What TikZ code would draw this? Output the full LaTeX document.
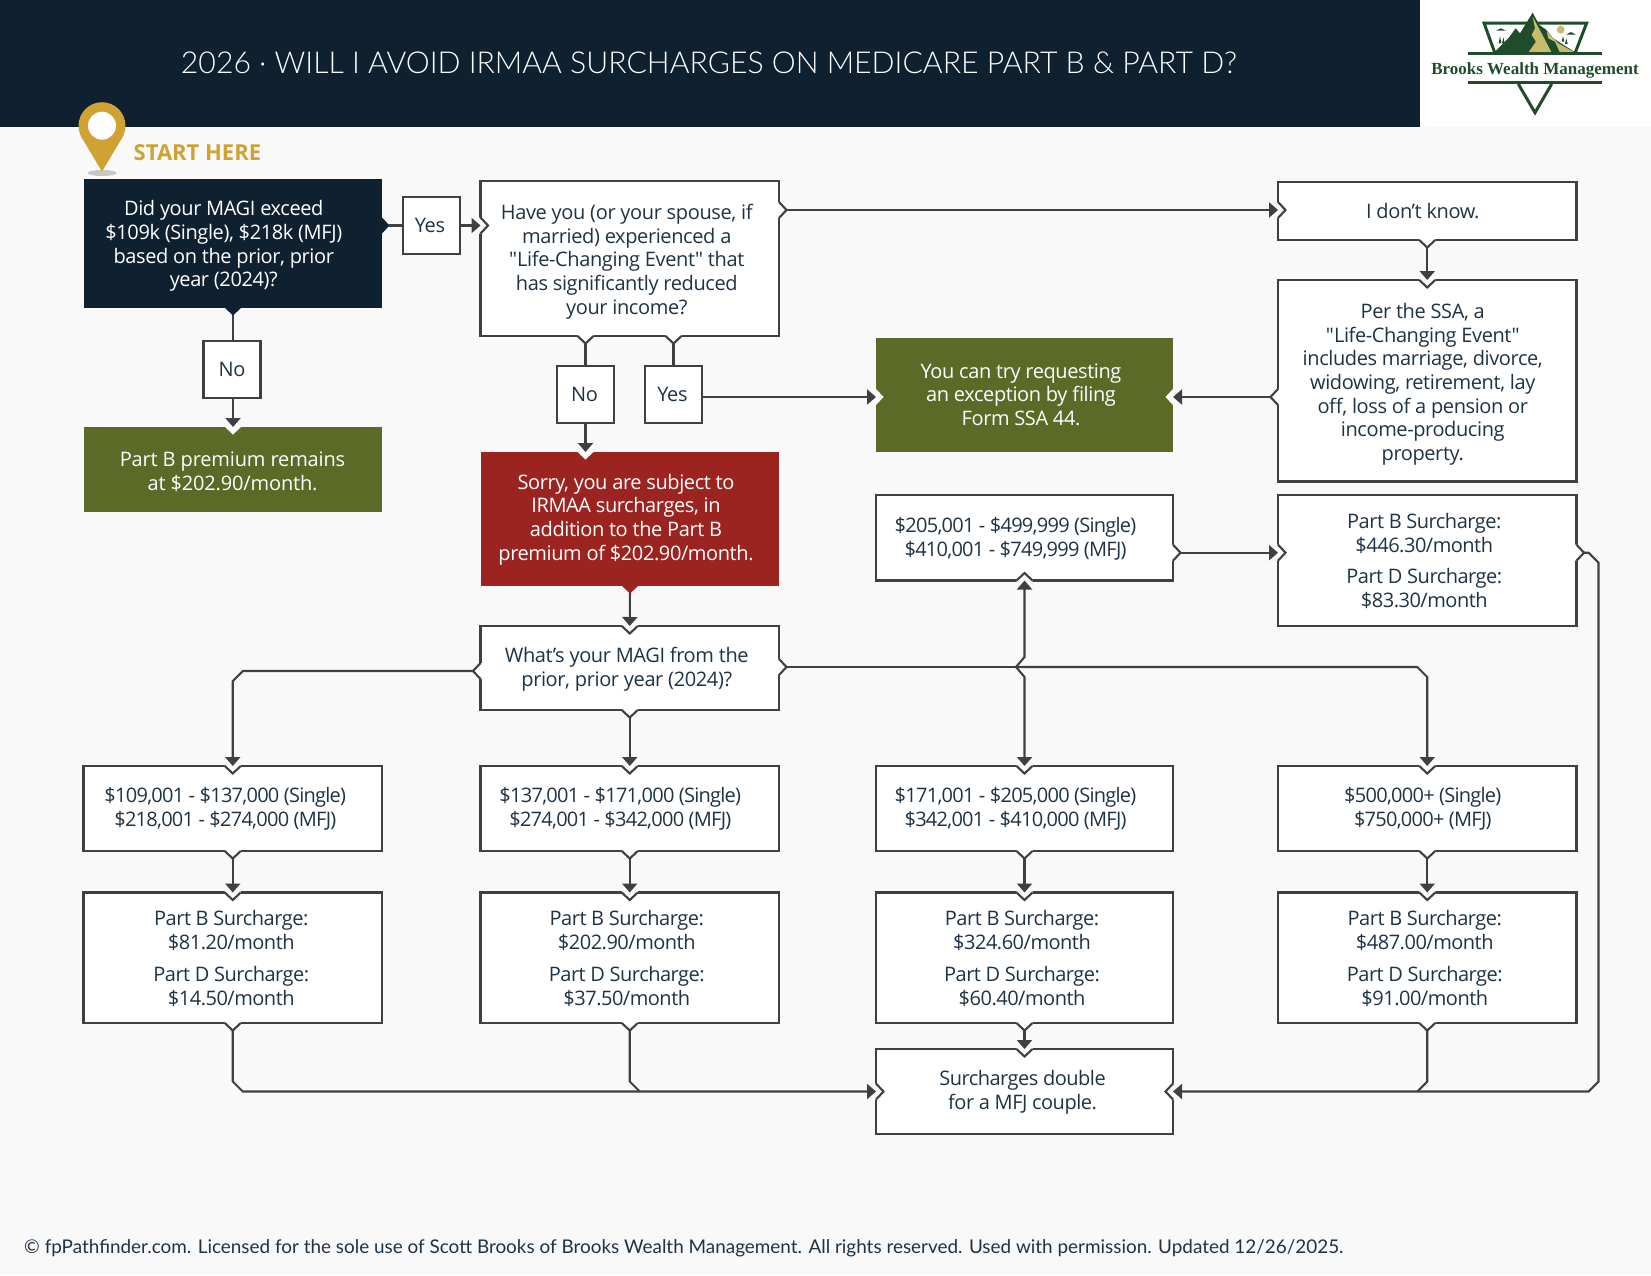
\documentclass[tikz,border=0pt]{standalone}
\usepackage{fontspec}
\usetikzlibrary{arrows.meta}
\setmainfont{Open Sans}
\newfontfamily\rawfont{Open Sans}
\newfontfamily\titlefont{Lato Light}
\newfontfamily\footfont{Lato}
\newfontfamily\logofont{Liberation Serif}
\definecolor{navy}{HTML}{0F2030}
\definecolor{bgc}{HTML}{F9F9F9}
\definecolor{olive}{HTML}{5B6B27}
\definecolor{brick}{HTML}{9C2420}
\definecolor{gold}{HTML}{CFA233}
\definecolor{edgec}{HTML}{404040}
\definecolor{txt}{HTML}{1F3347}
\definecolor{lgreen}{HTML}{1F4D2B}
\definecolor{lgold}{HTML}{C6BC6C}
\newcommand\trk[2]{\fontsize{20}{#2}\selectfont\addfontfeature{LetterSpace=#1}}
\newcommand\qt{{\rawfont"}}
\tikzset{
  box/.style={draw=edgec,line width=2.1pt,fill=white,text=txt,align=center,inner sep=0pt,outer sep=0pt,font=\trk{-2}{23.7}},
  qbox/.style={box,font=\trk{-1.9}{23.7}},
  rng/.style={box,font=\trk{-3.7}{23.7}},
  sur/.style={box,font=\trk{-2.5}{24}},
  solid box/.style={box,draw=none,text=white},
  conn/.style={draw=edgec,line width=2.1pt,line join=miter},
  arr/.style={conn,-{Triangle[length=9pt,width=15pt]}},
  tabstart/.style={shorten <=7pt},
}
% box: name, x1,y1,x2,y2, style, text offset, text
\newcommand\bx[8]{%
  \pgfmathsetmacro\bcx{(#2+#4)/2}\pgfmathsetmacro\bcy{(#3+#5)/2}%
  \pgfmathsetmacro\bw{#4-#2}\pgfmathsetmacro\bh{#5-#3}%
  \node[#6,minimum width=\bw pt,minimum height=\bh pt] (#1) at (\bcx,\bcy) {};
  \node[#6,draw=none,fill=none] (#1txt) at ([shift={(#7)}]\bcx,\bcy) {#8};}
% tab/notch: x,y,dirx,diry,fill,stroke
\newcommand\tabm[6]{%
  \fill[#5] ({#1+8*#4-1.6*#3},{#2+8*#3-1.6*#4}) -- ({#1+8*#4},{#2+8*#3}) -- ({#1+7.5*#3},{#2+7.5*#4}) -- ({#1-8*#4},{#2-8*#3}) -- ({#1-8*#4-1.6*#3},{#2-8*#3-1.6*#4}) -- cycle;
  \draw[line width=2.1pt,draw=#6] ({#1+8*#4},{#2+8*#3}) -- ({#1+7.5*#3},{#2+7.5*#4}) -- ({#1-8*#4},{#2-8*#3});}
\begin{document}
\begin{tikzpicture}[x=1pt,y=-1pt]
\useasboundingbox (0,0) rectangle (1651,1275);
\fill[bgc] (0,0) rectangle (1651,1275);
\fill[navy] (0,0) rectangle (1420,127);
\fill[white] (1420,0) rectangle (1651,127);
\node[text=white,inner sep=0pt,font=\titlefont\fontsize{30.2}{36}\selectfont] (title) at (709,63) {2026 · WILL I AVOID IRMAA SURCHARGES ON MEDICARE PART B \& PART D?};
% logo
\begin{scope}[shift={(1380,0)},x=0.3333pt,y=-0.3333pt]
 \draw[lgreen,line width=3pt] (345,160) -- (312,69) -- (620,69) -- (585,160);
 \fill[lgreen] (340,160) -- (385,115) -- (407,85) -- (420,100) -- (458,38) -- (478,75) -- (497,88) -- (520,115) -- (590,160) -- cycle;
 \fill[lgold] (458,50) -- (490,110) -- (515,158) -- (445,158) -- (468,125) -- (455,105) -- (465,85) -- cycle;
 \fill[lgold] (500,95) -- (535,130) -- (585,158) -- (540,158) -- (525,125) -- (505,115) -- cycle;
 \fill[lgold] (542,89) circle (12);
 \fill[lgreen] (348,92) -- (362,85) -- (378,92) -- cycle;
 \fill[lgreen] (558,104) -- (573,96) -- (588,104) -- cycle;
 \fill[lgreen] (356,130) -- (360,108) -- (364,130) -- cycle;
 \fill[lgreen] (366,130) -- (370,112) -- (374,130) -- cycle;
 \fill[lgreen] (545,125) -- (549,108) -- (553,125) -- cycle;
 \fill[lgreen] (555,132) -- (559,115) -- (563,132) -- cycle;
 \fill[lgreen] (264,157) rectangle (665,165);
 \fill[lgreen] (264,243) rectangle (665,252);
 \draw[lgreen,line width=3pt] (415,252) -- (465,338) -- (515,252);
 \node[text=lgreen,inner sep=0pt,font=\logofont\bfseries\fontsize{17}{20}\selectfont] (logotext) at (465,212) {Brooks Wealth Management};
\end{scope}
% pin
\fill[black!22] (102,173) ellipse [x radius=14.5,y radius=3];
\fill[gold] (102,125.7) circle (23.5);
\fill[gold] (102,171.5) -- (81.9,137.8) -- (122.1,137.8) -- cycle;
\fill[white] (102,125.7) circle (14);
\node[text=gold,anchor=base west,inner sep=0pt,font=\bfseries\fontsize{22}{26}\selectfont] (start) at (133.5,160.7) {START HERE};
% boxes
\bx{q1}{83.5}{179}{382}{308}{solid box,fill=navy}{-9,2.6}{Did your MAGI exceed\\\$109k (Single), \$218k (MFJ)\\based on the prior, prior\\year (2024)?}
\bx{yes1}{403}{197}{460}{254}{box}{-1.5,0}{Yes}
\bx{no1}{203.5}{341}{260.5}{398}{box}{0,0}{No}
\bx{gl}{84}{427}{382}{512}{solid box,fill=olive,font=\trk{-0.8}{23.7}}{-0.5,2}{Part B premium remains\\at \$202.90/month.}
\bx{q2}{480.5}{181}{779}{336}{qbox}{-3,3}{Have you (or your spouse, if\\married) experienced a\\\qt Life-Changing Event\qt{} that\\has significantly reduced\\your income?}
\bx{no2}{557}{366}{614}{423}{box}{-1,0}{No}
\bx{yes2}{645}{366}{702}{423}{box}{-1,0}{Yes}
\bx{gc}{876}{338}{1173}{452}{solid box,fill=olive}{-3.5,-0.5}{You can try requesting\\an exception by filing\\Form SSA 44.}
\bx{red}{481}{452}{779}{586}{solid box,fill=brick}{-4,0.5}{Sorry, you are subject to\\IRMAA surcharges, in\\addition to the Part B\\premium of \$202.90/month.}
\bx{dk}{1278}{182}{1576.5}{240}{box}{-4.5,0}{I don’t know.}
\bx{ssa}{1278}{280}{1576.5}{481.5}{box}{-4.5,3.5}{Per the SSA, a\\\qt Life-Changing Event\qt\\includes marriage, divorce,\\widowing, retirement, lay\\off, loss of a pension or\\income-producing\\property.}
\bx{b205}{876}{495}{1173}{580.5}{rng}{-9,1}{\$205,001 - \$499,999 (Single)\\\$410,001 - \$749,999 (MFJ)}
\bx{s5}{1278}{495}{1576.5}{626}{sur}{-3,0.5}{Part B Surcharge:\\\$446.30/month\\[7.8pt]Part D Surcharge:\\\$83.30/month}
\bx{q3}{480.5}{626}{779}{710}{qbox}{-3,1.5}{What’s your MAGI from the\\prior, prior year (2024)?}
\bx{r1}{83.5}{766}{382}{851}{rng}{-7.5,0}{\$109,001 - \$137,000 (Single)\\\$218,001 - \$274,000 (MFJ)}
\bx{r2}{480.5}{766}{779}{851}{rng}{-9.5,0}{\$137,001 - \$171,000 (Single)\\\$274,001 - \$342,000 (MFJ)}
\bx{r3}{876}{766}{1173}{851}{rng}{-9,0}{\$171,001 - \$205,000 (Single)\\\$342,001 - \$410,000 (MFJ)}
\bx{r4}{1278}{766}{1576.5}{851}{rng}{-4.5,0}{\$500,000+ (Single)\\\$750,000+ (MFJ)}
\bx{s1}{83.5}{892.5}{382}{1023}{sur}{-1.5,0.4}{Part B Surcharge:\\\$81.20/month\\[7.8pt]Part D Surcharge:\\\$14.50/month}
\bx{s2}{480.5}{892.5}{779}{1023}{sur}{-3,0.4}{Part B Surcharge:\\\$202.90/month\\[7.8pt]Part D Surcharge:\\\$37.50/month}
\bx{s3}{876}{892.5}{1173}{1023}{sur}{-2.5,0.4}{Part B Surcharge:\\\$324.60/month\\[7.8pt]Part D Surcharge:\\\$60.40/month}
\bx{s4}{1278}{892.5}{1576.5}{1023}{sur}{-2.5,0.4}{Part B Surcharge:\\\$487.00/month\\[7.8pt]Part D Surcharge:\\\$91.00/month}
\bx{dbl}{876}{1049}{1173}{1134}{sur}{-2,1}{Surcharges double\\for a MFJ couple.}
% footer
\node[text=txt,anchor=base west,inner sep=0pt,font=\footfont\fontsize{18.9}{22}\selectfont] (foot) at (24,1253.5) {© fpPathfinder.com. Licensed for the sole use of Scott Brooks of Brooks Wealth Management. All rights reserved. Used with permission. Updated 12/26/2025.};
% named points
\coordinate (hub) at (1016,667);
\coordinate (q3l) at (480.5,671);
\coordinate (q2r) at (779,210);
\coordinate (s5r) at (1576.5,552.7);
\coordinate (ssal) at (1278,397);
% tabs (out of a box)
\tabm{382}{225.5}{1}{0}{navy}{none}
\tabm{233}{308}{0}{1}{navy}{none}
\tabm{779}{210}{1}{0}{white}{edgec}
\tabm{585.5}{336}{0}{1}{white}{edgec}
\tabm{673.5}{336}{0}{1}{white}{edgec}
\tabm{1427.25}{240}{0}{1}{white}{edgec}
\tabm{1278}{397}{-1}{0}{white}{edgec}
\tabm{1173}{552.7}{1}{0}{white}{edgec}
\tabm{1576.5}{552.7}{1}{0}{white}{edgec}
\tabm{630}{586}{0}{1}{brick}{none}
\tabm{480.5}{671}{-1}{0}{white}{edgec}
\tabm{629.75}{710}{0}{1}{white}{edgec}
\tabm{779}{667}{1}{0}{white}{edgec}
\foreach \xx in {232.75,629.75,1024.5,1427.25}{
  \tabm{\xx}{851}{0}{1}{white}{edgec}
  \tabm{\xx}{1023}{0}{1}{white}{edgec}
}
% notches (into a box)
\tabm{480.5}{225.5}{1}{0}{bgc}{edgec}
\tabm{1278}{210}{1}{0}{bgc}{edgec}
\tabm{1427.25}{280}{0}{1}{bgc}{edgec}
\tabm{1278}{552.7}{1}{0}{bgc}{edgec}
\tabm{1024.5}{580.5}{0}{-1}{bgc}{edgec}
\tabm{629.75}{626}{0}{1}{bgc}{edgec}
\foreach \xx in {232.75,629.75,1024.5,1427.25}{
  \tabm{\xx}{766}{0}{1}{bgc}{edgec}
  \tabm{\xx}{892.5}{0}{1}{bgc}{edgec}
}
\tabm{1024.5}{1049}{0}{1}{bgc}{edgec}
\tabm{876}{1091.5}{1}{0}{bgc}{edgec}
\tabm{1173}{1091.5}{-1}{0}{bgc}{edgec}
\tabm{233}{427}{0}{1}{white}{none}
\tabm{585.5}{452}{0}{1}{white}{none}
\tabm{876}{397}{1}{0}{white}{none}
\tabm{1173}{397}{-1}{0}{white}{none}
% connectors
\draw[conn,tabstart] (q1.east |- yes1.west) -- (yes1.west);
\draw[arr] (yes1.east) -- (q2.west |- yes1.east);
\draw[conn,tabstart] (q1.south) -- (q1.south |- no1.north);
\draw[arr] (gl.north |- no1.south) -- (gl.north);
\draw[arr,tabstart] (q2r) -- (dk.west |- q2r);
\draw[arr,tabstart] (dk.south) -- (ssa.north);
\draw[arr,tabstart] (ssal) -- (gc.east |- ssal);
\draw[conn,tabstart] (q2.south -| no2.north) -- (no2.north);
\draw[conn,tabstart] (q2.south -| yes2.north) -- (yes2.north);
\draw[arr] (no2.south) -- (red.north -| no2.south);
\draw[arr] (yes2.east |- ssal) -- (gc.west |- ssal);
\draw[arr,tabstart] (red.south) -- (q3.north);
\draw[arr,tabstart] (q3l) -- ([xshift=10pt]r1.north |- q3l) -- ++(-10,10) -- (r1.north);
\draw[arr,tabstart] (q3.south) -- (r2.north);
\draw[conn,tabstart] (q3.east |- hub) -- (hub);
\draw[arr] (hub) -- ++(8.5,-10) -- (b205.south);
\draw[arr] (hub) -- ++(8.5,10) -- (r3.north);
\draw[arr] (hub) -- ([xshift=-10pt]r4.north |- hub) -- ++(10,10) -- (r4.north);
\draw[arr,tabstart] (b205.east |- s5r) -- (s5.west |- s5r);
\draw[arr,tabstart] (s5r) -- ++(12,0) -- ++(10,10) -- (1598.5,1081.5) -- ++(-10,10) -- (dbl.east);
\draw[arr,tabstart] (r1.south) -- (s1.north);
\draw[arr,tabstart] (r2.south) -- (s2.north);
\draw[arr,tabstart] (r3.south) -- (s3.north);
\draw[arr,tabstart] (r4.south) -- (s4.north);
\draw[arr,tabstart] (s1.south) -- ([yshift=10pt]s1.south |- dbl.west) -- ++(10,10) -- (dbl.west);
\draw[conn,tabstart] (s2.south) -- ([yshift=10pt]s2.south |- dbl.west) -- ++(10,10);
\draw[arr,tabstart] (s3.south) -- (dbl.north);
\draw[conn,tabstart] (s4.south) -- ([yshift=10pt]s4.south |- dbl.east) -- ++(-10,10);
\end{tikzpicture}
\end{document}
